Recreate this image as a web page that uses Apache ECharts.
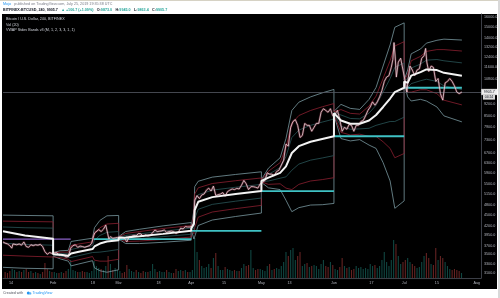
<!DOCTYPE html>
<html><head><meta charset="utf-8">
<script src="https://cdn.jsdelivr.net/npm/echarts@6/dist/echarts.min.js"></script>
<style>html,body{margin:0;padding:0;background:#fff}#c{width:500px;height:298px}</style>
</head><body><div id="c"></div>
<script>
// ---------- DATA ----------
const priceDates = ['2019-01-10 14:00','2019-01-11 12:00','2019-01-12 12:00','2019-01-13 12:00','2019-01-14 08:00','2019-01-14 20:00','2019-01-15 12:00','2019-01-16 12:00','2019-01-17 12:00','2019-01-18 12:00','2019-01-19 12:00','2019-01-20 12:00','2019-01-21 12:00','2019-01-22 12:00','2019-01-23 12:00','2019-01-24 12:00','2019-01-25 12:00','2019-01-26 12:00','2019-01-27 12:00','2019-01-28 12:00','2019-01-29 12:00','2019-01-30 12:00','2019-01-31 12:00',
'2019-02-01 12:00','2019-02-02 12:00','2019-02-03 12:00','2019-02-04 12:00','2019-02-05 12:00','2019-02-06 12:00','2019-02-07 12:00','2019-02-08 12:00','2019-02-09 12:00','2019-02-10 12:00','2019-02-11 12:00','2019-02-12 12:00','2019-02-13 12:00','2019-02-14 12:00','2019-02-15 12:00','2019-02-16 12:00','2019-02-17 12:00','2019-02-18 08:00','2019-02-18 20:00','2019-02-19 12:00','2019-02-20 12:00','2019-02-21 12:00','2019-02-22 12:00','2019-02-23 12:00','2019-02-24 08:00','2019-02-24 20:00','2019-02-25 12:00','2019-02-26 12:00','2019-02-27 12:00','2019-02-28 12:00',
'2019-03-01 12:00','2019-03-02 12:00','2019-03-03 12:00','2019-03-04 12:00','2019-03-05 12:00','2019-03-06 12:00','2019-03-07 12:00','2019-03-08 12:00','2019-03-09 12:00','2019-03-10 12:00','2019-03-11 12:00','2019-03-12 12:00','2019-03-13 12:00','2019-03-14 12:00','2019-03-15 12:00','2019-03-16 12:00','2019-03-17 12:00','2019-03-18 12:00','2019-03-19 12:00','2019-03-20 12:00','2019-03-21 12:00','2019-03-22 12:00','2019-03-23 12:00','2019-03-24 12:00','2019-03-25 12:00','2019-03-26 12:00','2019-03-27 12:00','2019-03-28 12:00','2019-03-29 12:00','2019-03-30 12:00','2019-03-31 12:00',
'2019-04-01 12:00','2019-04-02 04:00','2019-04-02 12:00','2019-04-03 12:00','2019-04-04 12:00','2019-04-05 12:00','2019-04-06 12:00','2019-04-07 12:00','2019-04-08 12:00','2019-04-09 12:00','2019-04-10 12:00','2019-04-11 12:00','2019-04-12 12:00','2019-04-13 12:00','2019-04-14 12:00','2019-04-15 12:00','2019-04-16 12:00','2019-04-17 12:00','2019-04-18 12:00','2019-04-19 12:00','2019-04-20 12:00','2019-04-21 12:00','2019-04-22 12:00','2019-04-23 12:00','2019-04-24 12:00','2019-04-25 12:00','2019-04-26 12:00','2019-04-27 12:00','2019-04-28 12:00','2019-04-29 12:00','2019-04-30 12:00',
'2019-05-01 12:00','2019-05-02 12:00','2019-05-03 12:00','2019-05-04 12:00','2019-05-05 12:00','2019-05-06 12:00','2019-05-07 12:00','2019-05-08 12:00','2019-05-09 12:00','2019-05-10 12:00','2019-05-11 12:00','2019-05-12 12:00','2019-05-13 12:00','2019-05-14 12:00','2019-05-15 12:00','2019-05-16 12:00','2019-05-17 12:00','2019-05-18 12:00','2019-05-19 12:00','2019-05-20 12:00','2019-05-21 12:00','2019-05-22 12:00','2019-05-23 12:00','2019-05-24 12:00','2019-05-25 12:00','2019-05-26 12:00','2019-05-27 12:00','2019-05-28 12:00','2019-05-29 12:00','2019-05-30 12:00','2019-05-31 12:00',
'2019-06-01 12:00','2019-06-02 12:00','2019-06-03 12:00','2019-06-04 12:00','2019-06-05 12:00','2019-06-06 12:00','2019-06-07 12:00','2019-06-08 12:00','2019-06-09 12:00','2019-06-10 12:00','2019-06-11 12:00','2019-06-12 12:00','2019-06-13 12:00','2019-06-14 12:00','2019-06-15 12:00','2019-06-16 12:00','2019-06-17 12:00','2019-06-18 12:00','2019-06-19 12:00','2019-06-20 12:00','2019-06-21 12:00','2019-06-22 12:00','2019-06-23 12:00','2019-06-24 12:00','2019-06-25 12:00','2019-06-26 04:00','2019-06-26 16:00','2019-06-27 04:00','2019-06-27 16:00','2019-06-28 12:00','2019-06-29 12:00','2019-06-30 12:00',
'2019-07-01 08:00','2019-07-02 04:00','2019-07-02 16:00','2019-07-03 12:00','2019-07-04 12:00','2019-07-05 12:00','2019-07-06 12:00','2019-07-07 12:00','2019-07-08 12:00','2019-07-09 12:00','2019-07-10 04:00','2019-07-10 16:00','2019-07-11 12:00','2019-07-12 12:00','2019-07-13 12:00','2019-07-14 12:00','2019-07-15 12:00','2019-07-16 12:00','2019-07-17 12:00','2019-07-18 12:00','2019-07-19 12:00','2019-07-20 12:00','2019-07-21 12:00','2019-07-22 12:00','2019-07-23 12:00','2019-07-24 12:00','2019-07-25 16:00'];
const priceValues = [3790,3760,3740,3700,3640,3740,3760,3720,3740,3710,3790,3680,3660,3720,3700,3720,3710,3730,3680,3560,3500,3540,3520,
3530,3540,3480,3490,3480,3440,3450,3640,3700,3720,3660,3690,3680,3660,3680,3700,3760,3950,4020,4060,4100,4050,4110,4220,4260,3860,3920,3880,3890,3900,
3910,3900,3880,3790,3920,3930,3950,3940,4000,3990,3930,3960,3940,3950,4020,4090,4050,4060,4070,4090,4030,4050,4060,4050,4000,4030,4140,4120,4180,4170,4170,
4200,4300,4950,5100,5000,5120,5150,5280,5350,5250,5420,5100,5130,5150,5200,5080,5230,5280,5320,5300,5340,5320,5450,5620,5500,5300,5400,5400,5380,5350,5500,
5550,5620,5900,5850,5850,5800,5950,6000,6200,6400,7100,7000,7900,8200,8300,8000,7400,7500,8100,8000,8000,7700,7900,8100,8100,8700,8900,8800,8700,8900,8500,
8600,8800,8300,7700,7900,7800,8050,8000,7700,8000,8000,8200,8250,8500,8800,9000,9300,9100,9300,9600,10000,10600,10900,11000,11600,12200,13600,12400,10900,12000,12300,11400,
10700,9900,10700,11700,11400,11000,11400,11500,12300,12500,13100,12000,11300,11700,11600,10600,10800,9800,9400,10500,10600,10800,10600,10300,9900,9800,9906];
const lastPrice = 9905.7;

// Monthly VWAP and stdev bands (two points share a timestamp at each monthly reset)
const bandDates = ['2019-01-10 14:00','2019-01-20 00:00','2019-02-01 00:00',
'2019-02-01 00:00','2019-02-04 00:00','2019-02-07 12:00','2019-02-08 16:00','2019-02-12 00:00','2019-02-17 20:00','2019-02-18 16:00','2019-02-21 00:00','2019-02-24 00:00','2019-03-01 00:00',
'2019-03-01 00:00','2019-03-04 00:00','2019-03-10 00:00','2019-03-20 00:00','2019-04-01 00:00',
'2019-04-01 00:00','2019-04-02 04:00','2019-04-02 12:00','2019-04-04 00:00','2019-04-10 00:00','2019-04-20 00:00','2019-05-01 00:00',
'2019-05-01 00:00','2019-05-04 00:00','2019-05-09 00:00','2019-05-11 12:00','2019-05-14 00:00','2019-05-17 00:00','2019-05-22 00:00','2019-05-27 00:00','2019-06-01 00:00',
'2019-06-01 00:00','2019-06-04 00:00','2019-06-08 00:00','2019-06-12 00:00','2019-06-16 00:00','2019-06-19 00:00','2019-06-22 00:00','2019-06-25 00:00','2019-06-27 00:00','2019-07-01 00:00',
'2019-07-01 00:00','2019-07-02 12:00','2019-07-04 00:00','2019-07-08 00:00','2019-07-10 12:00','2019-07-15 00:00','2019-07-18 00:00','2019-07-25 16:00'];
const vwapValues = [4060,3950,3870, 3500,3490,3470,3520,3560,3620,3680,3750,3800,3830, 3890,3900,3930,3990,4070, 4130,4250,4650,4900,5050,5150,5250, 5600,5720,5900,6150,6700,7000,7200,7330,7460, 8650,8250,8080,8080,8250,8550,9000,9500,9900,10180, 10600,10500,11000,11250,11450,11400,11200,11000];
const upper3 = [4500,4490,4480, 3540,3580,3590,3800,3830,3880,4150,4350,4480,4490, 3920,4050,4110,4200,4290, 4160,4650,5400,5590,5740,5840,5940, 5650,6080,6500,7350,8800,9280,9600,9850,10070, 8750,9150,8920,8860,9450,10200,11700,13400,15000,15430, 10700,11400,12650,13050,13550,13800,13900,13820];
const upper2 = [4330,4320,4310, 3525,3550,3550,3700,3740,3790,3990,4150,4250,4270, 3910,4000,4050,4130,4210, 4150,4520,5150,5360,5510,5610,5710, 5630,5960,6300,6950,8100,8520,8800,9010,9200, 8720,8850,8640,8600,9050,9650,10800,12100,13300,13680, 10670,11100,12100,12450,12850,13000,13000,12880];
const upper1 = [4170,4150,4140, 3510,3520,3510,3610,3650,3700,3830,3950,4030,4050, 3900,3950,3990,4060,4140, 4140,4380,4900,5130,5280,5380,5480, 5615,5840,6100,6550,7400,7760,8000,8170,8330, 8690,8550,8360,8340,8650,9100,9900,10800,11600,11930, 10640,10800,11550,11850,12150,12200,12100,11940];
const lower1 = [3760,3730,3710, 3490,3460,3430,3430,3470,3540,3530,3550,3570,3610, 3880,3850,3870,3920,3980, 4120,4120,4400,4670,4820,4920,5020, 5585,5600,5700,5750,6000,6240,6400,6490,6590, 8610,7950,7800,7820,7850,8000,8100,8200,8200,8430, 10560,10200,10450,10650,10750,10600,10300,10060];
const lower2 = [3480,3460,3440, 3475,3430,3390,3340,3380,3450,3370,3350,3350,3390, 3870,3800,3810,3850,3910, 4110,3990,4150,4440,4590,4690,4790, 5570,5480,5500,5350,5300,5480,5600,5650,5720, 8580,7650,7520,7560,7450,7450,7200,6900,6500,6680, 10530,9900,9900,10050,10050,9800,9400,9120];
const lower3 = [3220,3200,3190, 3460,3400,3350,3250,3290,3360,3210,3150,3120,3170, 3860,3750,3750,3780,3830, 4100,3860,3900,4210,4360,4460,4560, 5550,5360,5300,4950,4600,4720,4800,4810,4850, 8550,7350,7240,7300,7050,6900,6300,5600,4700,4930, 10500,9600,9350,9450,9350,9000,8500,8180];

// previous period VWAP levels
const prevStart = ['2019-01-10 14:00','2019-02-18 08:00','2019-04-01 00:00','2019-05-01 00:00','2019-06-01 00:00','2019-07-01 00:00'];
const prevEnd   = ['2019-02-08 12:00','2019-04-01 00:00','2019-05-01 00:00','2019-06-01 00:00','2019-07-01 00:00','2019-07-25 16:00'];
const prevValue = [3860,3860,4070,5250,7460,10180];

// daily volume, 2019-01-11 .. 2019-07-25
const volStart = '2019-01-11';
const volValues = [6,5,7,9,8,6,7,6,8,9,6,7,5,6,5,4,6,15,9,7,6,
6,5,5,6,5,7,9,18,8,7,6,6,7,6,6,5,7,17,12,10,9,8,12,22,14,8,10,8,
7,5,6,13,9,7,6,8,6,5,7,6,6,7,14,9,6,7,6,6,8,6,5,5,9,7,8,7,8,6,6,
8,40,26,18,12,10,11,14,10,20,25,12,8,8,11,9,8,7,8,7,7,10,14,12,13,28,10,8,9,9,
8,7,12,14,8,9,10,9,12,16,26,22,28,30,18,22,26,12,14,15,11,12,13,12,9,14,18,12,11,16,13,
9,8,11,20,12,10,11,8,9,12,10,11,9,10,9,14,12,13,10,12,18,26,16,12,18,38,34,22,14,16,
18,20,16,14,12,10,11,16,22,25,20,14,13,30,18,22,20,16,12,9,8,9,8,7,5];

const timeTickDates = ['2019-01-14','2019-02-01','2019-02-18','2019-03-01','2019-03-18','2019-04-01','2019-04-15','2019-05-01','2019-05-13','2019-06-01','2019-06-17','2019-07-01','2019-07-15','2019-08-01'];
const timeTickLabels = ['14','Feb','18','Mar','18','Apr','15','May','13','Jun','17','Jul','15','Aug'];
const priceTicks = [3100,3300,3500,3700,3950,4200,4500,4800,5150,5500,5900,6300,6700,7300,7900,8500,9200,10000,10800,11600,12400,13200,14000,15000,16000];

// ---------- BUILD ----------
const T = s => { const m = s.match(/(\d+)-(\d+)-(\d+)(?: (\d+):(\d+))?/); return Date.UTC(+m[1], +m[2]-1, +m[3], m[4] ? +m[4] : 0, m[5] ? +m[5] : 0); };
const FONT = 'Liberation Sans, Arial, sans-serif';
const DAY = 86400000;
const zip = (d, v) => d.map((s, i) => [T(s), v[i]]);
const priceData = zip(priceDates, priceValues);
const priceAt = t => { let v = priceData[0][1]; for (const p of priceData) { if (p[0] <= t) v = p[1]; else break; } return v; };
const v0 = T(volStart);
const volData = volValues.map((v, i) => {
  const t = v0 + i * DAY;
  const up = priceAt(t + DAY) >= priceAt(t);
  return { value: [t + DAY / 2, v], itemStyle: { color: up ? 'rgba(38,166,154,0.42)' : 'rgba(239,83,80,0.42)' } };
});
const labelMap = {}; timeTickDates.forEach((d, i) => labelMap[T(d)] = timeTickLabels[i]);
const labelFor = v => { for (const k in labelMap) { if (Math.abs(+k - v) < 3600000) return labelMap[k]; } return ''; };

const prevCyan = [];
prevStart.forEach((s, i) => { if (i === 0) return; prevCyan.push([T(s), prevValue[i]], [T(prevEnd[i]), prevValue[i]], [T(prevEnd[i]), '-']); });
const prevPurple = [[T(prevStart[0]), prevValue[0]], [T(prevEnd[0]), prevValue[0]]];

const bandLine = (name, arr, color, w) => ({ name, type: 'line', data: zip(bandDates, arr), showSymbol: false, symbol: 'none', z: 2, lineStyle: { color, width: w }, silent: true });

const chart = echarts.init(document.getElementById('c'), null, { renderer: 'canvas' });
const option = {
  animation: false, backgroundColor: '#ffffff',
  textStyle: { fontFamily: FONT },
  grid: { left: 3, top: 14, width: 478, height: 264, outerBoundsMode: 'none', containLabel: false },
  xAxis: {
    type: 'value', min: T('2019-01-10 14:00'), max: T('2019-08-02 20:00'), scale: true,
    axisLine: { show: true, onZero: false, lineStyle: { color: '#3b3e46', width: 1 } }, axisTick: { show: false }, splitLine: { show: false },
    axisLabel: { customValues: timeTickDates.map(T), formatter: v => labelFor(v), color: '#b2b5be', fontSize: 3.7, margin: 3.2, hideOverlap: false, showMinLabel: true, showMaxLabel: true }
  },
  yAxis: [
    { type: 'log', logBase: 10, position: 'right', min: 3007, max: 16332,
      axisLine: { show: true, lineStyle: { color: '#3b3e46', width: 1 } }, axisTick: { show: false }, splitLine: { show: false },
      axisLabel: { customValues: priceTicks, formatter: v => Number(v).toFixed(1), color: '#b2b5be', fontSize: 3.7, margin: 3, hideOverlap: false } },
    { type: 'value', min: 0, max: 264, show: false }
  ],
  series: [
    { name: 'Vol', type: 'bar', yAxisIndex: 1, data: volData, barWidth: 1.1, z: 1, silent: true },
    bandLine('up3', upper3, '#7898a0', 0.8),
    bandLine('dn3', lower3, '#7898a0', 0.8),
    bandLine('up2', upper2, '#8a2030', 0.8),
    bandLine('dn2', lower2, '#8a2030', 0.8),
    bandLine('up1', upper1, '#2a5558', 0.8),
    bandLine('dn1', lower1, '#2a5558', 0.8),
    { name: 'prevPurple', type: 'line', data: prevPurple, showSymbol: false, symbol: 'none', z: 3, lineStyle: { color: '#8b62c9', width: 1.3 }, silent: true },
    { name: 'prevCyan', type: 'line', data: prevCyan, showSymbol: false, symbol: 'none', connectNulls: false, z: 3, lineStyle: { color: '#3fc1c4', width: 1.8 }, silent: true },
    { name: 'priceGlow', type: 'line', data: priceData, showSymbol: false, symbol: 'none', z: 4, lineStyle: { color: 'rgba(200,80,105,0.35)', width: 2.2 }, silent: true },
    { name: 'price', type: 'line', data: priceData, showSymbol: false, symbol: 'none', z: 5, lineStyle: { color: '#e9d3d8', width: 0.8 }, silent: true,
      markLine: { silent: true, symbol: ['none', 'none'], label: { show: false }, lineStyle: { color: '#555963', width: 0.8, type: 'solid' }, data: [{ yAxis: lastPrice }] } },
    { name: 'VWAP', type: 'line', data: zip(bandDates, vwapValues), showSymbol: false, symbol: 'none', z: 6, lineStyle: { color: '#f3f3f3', width: 2 }, silent: true }
  ]
};
chart.setOption(option);

const py = chart.convertToPixel({ yAxisIndex: 0 }, lastPrice);
const txt = (x, y, text, fill, size, weight) => ({ type: 'text', x, y, silent: true, z: 50, style: { text, fill, fontSize: size, fontFamily: FONT, fontWeight: weight || 'normal', verticalAlign: 'middle', align: 'left' } });
chart.setOption({
  graphic: [
    { type: 'rect', shape: { x: 2, y: 14, width: 495, height: 275 }, style: { fill: '#000000' }, z: -10, silent: true },
    { type: 'rect', shape: { x: 0, y: 0, width: 500, height: 1 }, style: { fill: '#d6d2c4' }, z: -10, silent: true },
    { type: 'rect', shape: { x: 498, y: 0, width: 2, height: 298 }, style: { fill: '#d9d9d9' }, z: -10, silent: true },
    { type: 'text', x: 3, y: 4.3, silent: true, z: 50, style: { text: '{b|Mojo} {g|published on TradingView.com, July 25, 2019 19:35:38 UTC}', verticalAlign: 'middle', rich: { b: { fill: '#2196f3', fontSize: 3.7, fontFamily: FONT }, g: { fill: '#787b86', fontSize: 3.7, fontFamily: FONT } } } },
    { type: 'text', x: 3, y: 9.7, silent: true, z: 50, style: { text: '{k|BITFINEX:BTCUSD, 240, 9905.7} {g|▲ +106.7 (+1.09%)} {k|O:}{g|9873.0} {k|H:}{g|9945.0} {k|L:}{g|9863.4} {k|C:}{g|9905.7}', verticalAlign: 'middle', rich: { k: { fill: '#131722', fontSize: 3.7, fontWeight: 'bold', fontFamily: FONT }, g: { fill: '#26a69a', fontSize: 3.7, fontWeight: 'bold', fontFamily: FONT } } } },
    txt(6, 19, 'Bitcoin / U.S. Dollar, 240, BITFINEX', '#d1d4dc', 3.7),
    txt(6, 24.6, 'Vol (20)', '#d1d4dc', 3.7),
    txt(6, 30.2, 'VWAP Stdev Bands v3 (M, 1, 2, 3, 3, 1, 1)', '#d1d4dc', 3.7),
    { type: 'rect', shape: { x: 481.5, y: py - 2.8, width: 15.5, height: 5.6 }, style: { fill: '#ececec', stroke: '#ffffff', lineWidth: 0.4 }, z: 60, silent: true },
    { type: 'text', x: 489.2, y: py, silent: true, z: 61, style: { text: '9905.7', fill: '#131722', fontSize: 3.6, fontFamily: FONT, align: 'center', verticalAlign: 'middle' } },
    { type: 'rect', shape: { x: 483, y: py + 3, width: 12, height: 4.6 }, style: { fill: '#d8d8d8' }, z: 60, silent: true },
    { type: 'text', x: 489, y: py + 5.3, silent: true, z: 61, style: { text: '04:24', fill: '#131722', fontSize: 3.3, fontFamily: FONT, align: 'center', verticalAlign: 'middle' } },
    txt(3, 293, 'Created with', '#50535e', 3.6),
    { type: 'circle', shape: { cx: 28.3, cy: 293, r: 1.5 }, style: { fill: '#2196f3' }, z: 50, silent: true },
    { type: 'circle', shape: { cx: 30.2, cy: 293.4, r: 1.2 }, style: { fill: '#5db3f5' }, z: 50, silent: true },
    txt(32.5, 293, 'TradingView', '#2196f3', 3.6)
  ]
});
</script></body></html>
